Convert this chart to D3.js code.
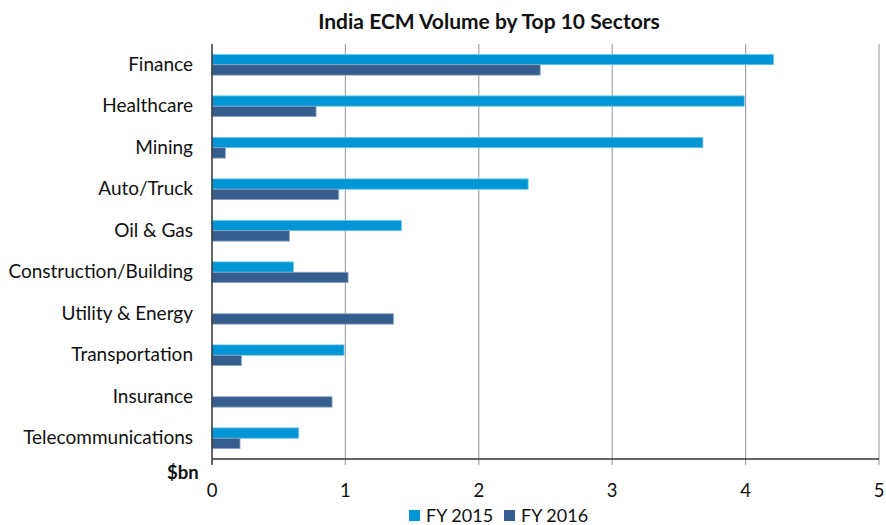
<!DOCTYPE html>
<html>
<head>
<meta charset="utf-8">
<script src="https://cdn.jsdelivr.net/npm/d3@7"></script>
<style>
  body { margin: 0; background: #fff; }
  text { font-family: Lato, "Open Sans", sans-serif; fill: #111; }
</style>
</head>
<body>
<script>
// DATA

var sectors = ["Finance", "Healthcare", "Mining", "Auto/Truck", "Oil & Gas",
  "Construction/Building", "Utility & Energy", "Transportation", "Insurance", "Telecommunications"];
var fy2015 = [4.21, 3.99, 3.68, 2.37, 1.42, 0.61, 0, 0.99, 0, 0.65];
var fy2016 = [2.46, 0.78, 0.10, 0.95, 0.58, 1.02, 1.36, 0.22, 0.90, 0.21];
var seriesNames = ["FY 2015", "FY 2016"];
var xTicks = [0, 1, 2, 3, 4, 5];

// CHART STRUCTURE

var svgWidth = 886, svgHeight = 525;
var margin = {top: 44, right: 7, bottom: 66, left: 212};
var chartWidth = svgWidth - margin.left - margin.right;
var chartHeight = svgHeight - margin.top - margin.bottom;
var colors = ["#0096d6", "#355e8f"];

var svg = d3.select("body").append("svg")
  .attr("width", svgWidth)
  .attr("height", svgHeight);

svg.append("text")
  .attr("x", 489).attr("y", 29)
  .attr("text-anchor", "middle")
  .style("font-size", "21px").style("font-weight", "bold")
  .text("India ECM Volume by Top 10 Sectors");

var chartGroup = svg.append("g")
  .attr("transform", `translate(${margin.left}, ${margin.top})`);

// SCALES

var xScale = d3.scaleLinear().domain([0, 5]).range([0, 667]);
var yScale = d3.scaleBand().domain(sectors).range([0, chartHeight]).paddingInner(0.5).paddingOuter(0.25);
var subScale = d3.scaleBand().domain(seriesNames).range([0, yScale.bandwidth()]);

// GRIDLINES

chartGroup.selectAll(".grid")
  .data(xTicks.slice(1))
  .enter().append("line")
  .attr("x1", d => xScale(d)).attr("x2", d => xScale(d))
  .attr("y1", 0).attr("y2", chartHeight + 6)
  .attr("stroke", "#a6a6a6").attr("stroke-width", 1.2);

// BARS

var rows = sectors.map((s, i) => ({sector: s, vals: [fy2015[i], fy2016[i]]}));

var rowGroups = chartGroup.selectAll(".row")
  .data(rows).enter().append("g")
  .attr("transform", d => `translate(0, ${yScale(d.sector)})`);

rowGroups.selectAll("rect")
  .data(d => d.vals.map((v, k) => ({v: v, k: k})).filter(e => e.v > 0))
  .enter().append("rect")
  .attr("x", 0)
  .attr("y", e => subScale(seriesNames[e.k]))
  .attr("width", e => xScale(e.v))
  .attr("height", subScale.bandwidth())
  .attr("fill", e => colors[e.k])
  .attr("stroke", e => e.k === 0 ? "#7cc8ea" : "#8aa3c2")
  .attr("stroke-width", 0.8);

// AXES

chartGroup.append("line")
  .attr("x1", 0).attr("x2", 0).attr("y1", 0).attr("y2", chartHeight + 6)
  .attr("stroke", "#333").attr("stroke-width", 1.5);

chartGroup.append("line")
  .attr("x1", 0).attr("x2", xScale(5)).attr("y1", chartHeight).attr("y2", chartHeight)
  .attr("stroke", "#333").attr("stroke-width", 1.5);

chartGroup.selectAll(".xlabel")
  .data(xTicks).enter().append("text")
  .attr("x", d => xScale(d)).attr("y", chartHeight + 38)
  .attr("text-anchor", "middle")
  .style("font-size", "18.5px")
  .text(d => d);

chartGroup.selectAll(".ylabel")
  .data(sectors).enter().append("text")
  .attr("x", -19)
  .attr("y", d => yScale(d) + yScale.bandwidth() / 2 + 6)
  .attr("text-anchor", "end")
  .style("font-size", "19px")
  .text(d => d);

svg.append("text")
  .attr("x", 167).attr("y", 479)
  .style("font-size", "18.5px").style("font-weight", "bold")
  .text("$bn");

// LEGEND

var legendX = [409, 504];
var legend = svg.selectAll(".legend")
  .data(seriesNames).enter().append("g")
  .attr("transform", (d, i) => `translate(${legendX[i]}, 510)`);

legend.append("rect")
  .attr("width", 11).attr("height", 11)
  .attr("fill", (d, i) => colors[i]);

legend.append("text")
  .attr("x", 17).attr("y", 12)
  .style("font-size", "18px")
  .text(d => d);
</script>
</body>
</html>
